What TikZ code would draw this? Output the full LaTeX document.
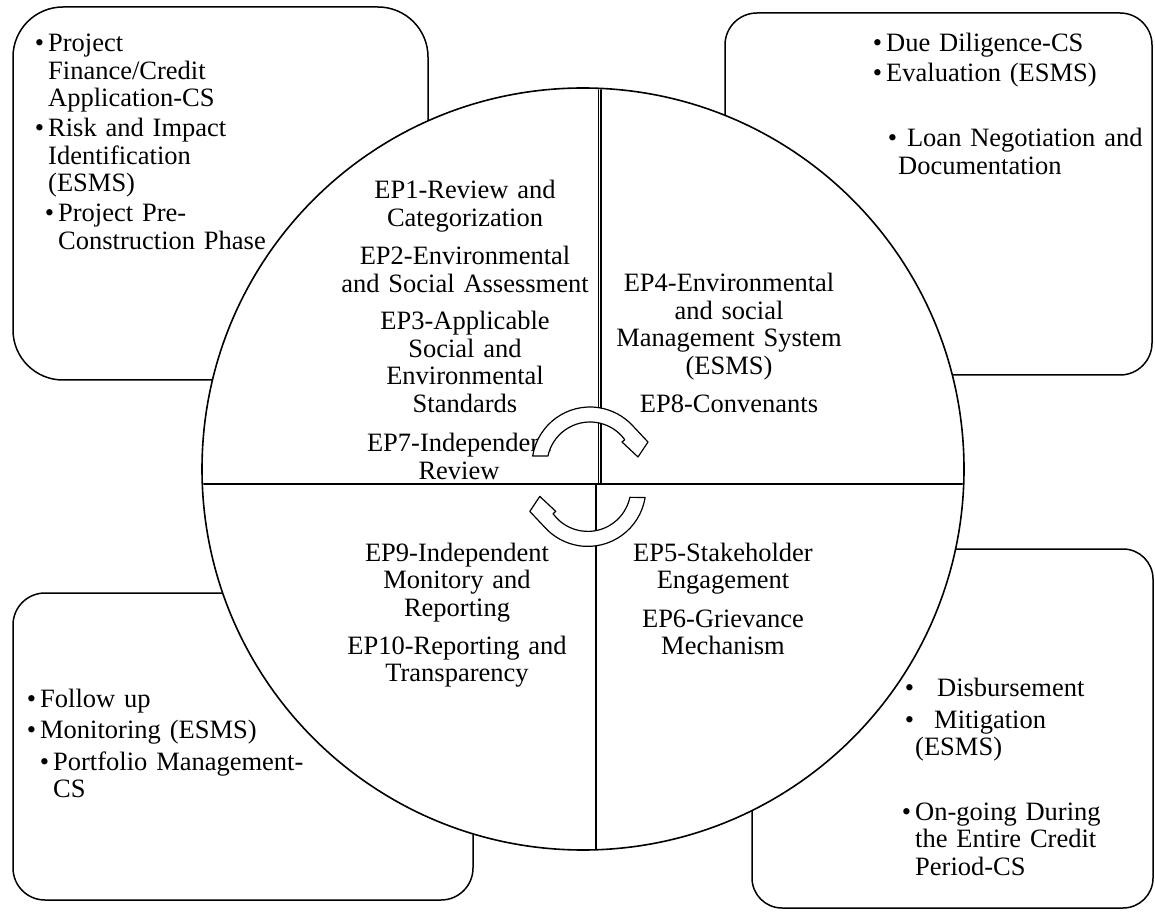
\documentclass[tikz,border=0pt]{standalone}
\usepackage{fontspec}
\setmainfont{Liberation Serif}

\newcommand{\bul}[1][4pt]{\llap{\textbullet\kern#1}}

\begin{document}
\begin{tikzpicture}[x=1pt,y=1pt,
  stagebox/.style={draw=black,fill=white,line width=1.5pt,inner sep=0pt},
  eptext/.style={anchor=base,align=center,text width=280pt,inner sep=0pt,
    font=\fontsize{26.5}{27.5}\selectfont},
  itemtext/.style={anchor=base west,align=left,text width=320pt,inner sep=0pt,
    font=\fontsize{26.5}{27.5}\selectfont},
  cyclearrow/.style={draw=black,fill=white,line width=1.2pt,line join=round}]
\path[use as bounding box,fill=white] (0,0) rectangle (1155,911);

% outer stage boxes
\node[stagebox,rounded corners=50pt,minimum width=415pt,minimum height=373pt] (boxUL) at (220.5,717.5) {};
\node[stagebox,rounded corners=32pt,minimum width=427pt,minimum height=362pt] (boxUR) at (938.5,717) {};
\node[stagebox,rounded corners=30pt,minimum width=401pt,minimum height=359pt] (boxLR) at (952.5,182.5) {};
\node[stagebox,rounded corners=32pt,minimum width=460pt,minimum height=307pt] (boxLL) at (243,164.5) {};

% central wheel
\node[draw=black,fill=white,line width=1.6pt,circle,minimum size=762pt,inner sep=0pt] (wheel) at (583,442) {};
\begin{scope}
\clip (wheel.center) circle[radius=380];
\draw[line width=1.5pt] (150,427) -- (1000,427);
\draw[line width=1.2pt] (598.3,427) -- (598.3,900);
\draw[line width=1.2pt] (601,427) -- (601,900);
\draw[line width=1.5pt] (596,0) -- (596,427);
\end{scope}

% principles
\node[eptext] (ep1) at (465,712) {EP1-Review and\\Categorization};
\node[eptext] (ep2) at (465,646) {EP2-Environmental\\and Social Assessment};
\node[eptext] (ep3) at (465,581) {EP3-Applicable\\Social and\\Environmental\\Standards};
\node[eptext] (ep7) at (459,459) {EP7-Independent\\Review};
\node[eptext] (ep4) at (729,619) {EP4-Environmental\\and social\\Management System\\(ESMS)};
\node[eptext] (ep8) at (729,498) {EP8-Convenants};
\node[eptext] (ep9) at (457,350) {EP9-Independent\\Monitory and\\Reporting};
\node[eptext] (ep10) at (457,257) {EP10-Reporting and\\Transparency};
\node[eptext] (ep5) at (723,350) {EP5-Stakeholder\\Engagement};
\node[eptext] (ep6) at (723,284) {EP6-Grievance\\Mechanism};

% stage items
\node[itemtext] (ul1) at (48,859) {\bul Project\\Finance/Credit\\Application-CS};
\node[itemtext] (ul2) at (48,774) {\bul Risk and Impact\\Identification\\(ESMS)};
\node[itemtext] (ul3) at (58,689) {\bul Project Pre-\\Construction Phase};
\node[itemtext] (ur1) at (886,859) {\bul Due Diligence-CS};
\node[itemtext] (ur2) at (886,829) {\bul Evaluation (ESMS)};
\node[itemtext] (ur3) at (898,764) {\bul[1pt]\ Loan Negotiation and\\Documentation};
\node[itemtext] (lr1) at (915,215) {\bul[1pt]\hspace{22pt}Disbursement};
\node[itemtext] (lr2) at (915,183) {\bul[1pt]\hspace{19pt}Mitigation\\(ESMS)};
\node[itemtext] (lr3) at (915,91) {\bul On-going During\\the Entire Credit\\Period-CS};
\node[itemtext] (ll1) at (40,204) {\bul Follow up};
\node[itemtext] (ll2) at (40,173) {\bul Monitoring (ESMS)};
\node[itemtext] (ll3) at (53,141) {\bul Portfolio Management-\\CS};

% cycle arrows
\draw[cyclearrow] ([shift={(171:58)}]590,446) arc[start angle=171,end angle=43,radius=58]
  -- (648,469) -- (638,454) -- (622,469) -- ([shift={(36:43)}]590,446)
  arc[start angle=36,end angle=168,radius=43] -- cycle;
\draw[cyclearrow,rotate around={180:(588.9,434.3)}] ([shift={(171:58)}]590,446) arc[start angle=171,end angle=43,radius=58]
  -- (648,469) -- (638,454) -- (622,469) -- ([shift={(36:43)}]590,446)
  arc[start angle=36,end angle=168,radius=43] -- cycle;
\end{tikzpicture}
\end{document}
